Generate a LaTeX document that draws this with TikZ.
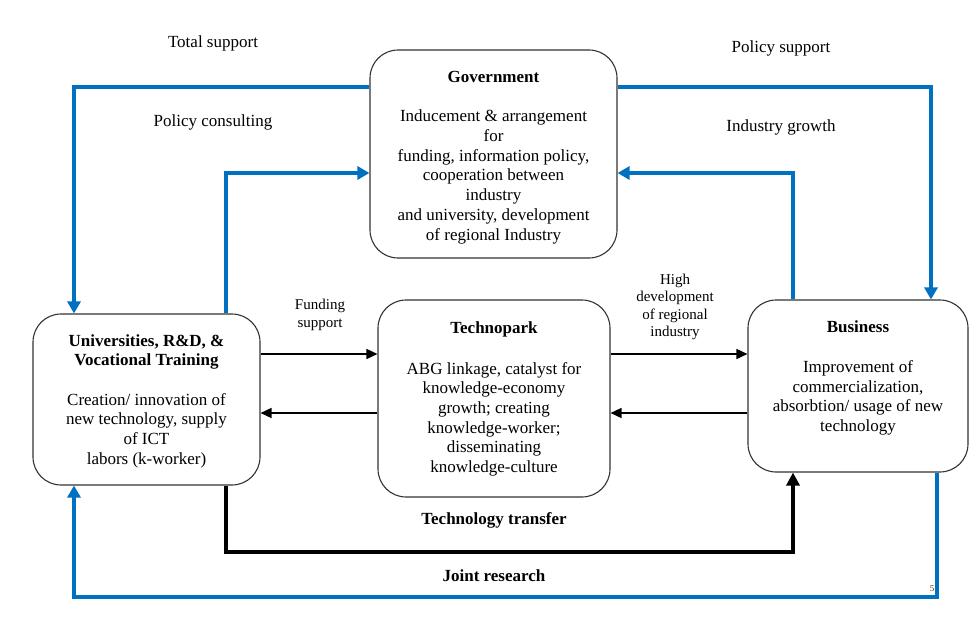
\documentclass[tikz,border=0pt]{standalone}
\usepackage{fontspec}
\setmainfont{Liberation Serif}
\usetikzlibrary{arrows.meta}
\definecolor{flowblue}{RGB}{0,112,192}
\begin{document}
\begin{tikzpicture}[x=1pt,y=-1pt,
  box/.style={draw=black!80, line width=1.1pt, rounded corners=28pt, fill=white, inner sep=0pt},
  boxtext/.style={anchor=north, align=center, inner sep=0pt, font=\fontsize{17}{19.7}\selectfont},
  lbl/.style={align=center, inner sep=0pt, font=\fontsize{17}{19.7}\selectfont},
  smalllbl/.style={align=center, inner sep=0pt, font=\fontsize{15}{17.4}\selectfont},
  blueflow/.style={draw=flowblue, line width=4.5pt, line join=miter, -{Triangle[length=12pt,width=13pt]}},
  arrowthin/.style={draw=black, line width=1.5pt, -{Triangle[length=11pt,width=10pt]}},
  arrowthick/.style={draw=black, line width=4pt, line join=miter, -{Triangle[length=13pt,width=13pt]}},
]
\useasboundingbox (0,0) rectangle (978,637);

% boxes
\node[box, minimum width=247pt, minimum height=208pt] (gov) at (493.5,154) {};
\node[box, minimum width=227pt, minimum height=171pt] (uni) at (146.5,399.5) {};
\node[box, minimum width=232pt, minimum height=197pt] (tech) at (494,398.5) {};
\node[box, minimum width=220pt, minimum height=172pt] (bus) at (858,386) {};

% box texts
\node[boxtext] (govtext) at (493.5,71) {\textbf{Government}\\[19.7pt]
  Inducement \& arrangement\\ for\\ funding, information policy,\\ cooperation between\\ industry\\ and university, development\\ of regional Industry};
\node[boxtext] (unitext) at (146.5,334) {\textbf{Universities, R\&D, \&}\\ \textbf{Vocational Training}\\[19.7pt]
  Creation/ innovation of\\ new technology, supply\\ of ICT\\ labors (k-worker)};
\node[boxtext] (techtext) at (494,322) {\textbf{Technopark}\\[20.5pt]
  ABG linkage, catalyst for\\ knowledge-economy\\ growth; creating\\ knowledge-worker;\\ disseminating\\ knowledge-culture};
\node[boxtext] (bustext) at (858,321) {\textbf{Business}\\[19.7pt]
  Improvement of\\ commercialization,\\ absorbtion/ usage of new\\ technology};

% helper coordinates
\coordinate (yTop) at (0,87);
\coordinate (yMid) at (0,173);
\coordinate (yBot) at (0,597);
\coordinate (yTT) at (0,552);
\coordinate (yA) at (0,354);
\coordinate (yB) at (0,413);
\coordinate (xL) at (74,0);
\coordinate (xPC) at (226,0);
\coordinate (xIG) at (793,0);
\coordinate (xPS) at (931,0);
\coordinate (xRB) at (937,0);

% blue connectors
\draw[blueflow] (gov.west |- yTop) -| (xL |- uni.north);
\draw[blueflow] (xPC |- uni.north) |- (gov.west |- yMid);
\draw[blueflow] (gov.east |- yTop) -| (xPS |- bus.north);
\draw[blueflow] (xIG |- bus.north) |- (gov.east |- yMid);
\draw[blueflow] (xRB |- bus.south) |- (xL |- yBot) -- (xL |- uni.south);

% black connectors
\draw[arrowthick] (xPC |- uni.south) |- (xIG |- yTT) -- (xIG |- bus.south);
\draw[arrowthin] (uni.east |- yA) -- (tech.west |- yA);
\draw[arrowthin] (tech.west |- yB) -- (uni.east |- yB);
\draw[arrowthin] (tech.east |- yA) -- (bus.west |- yA);
\draw[arrowthin] (bus.west |- yB) -- (tech.east |- yB);

% labels
\node[lbl] (ltotal) at (213,43) {Total support};
\node[lbl] (lpolsup) at (781,48) {Policy support};
\node[lbl] (lpolcon) at (213,122) {Policy consulting};
\node[lbl] (lindgr) at (781,127) {Industry growth};
\node[smalllbl] (lfund) at (320,315) {Funding\\ support};
\node[smalllbl] (lhigh) at (675,307) {High\\ development\\ of regional\\ industry};
\node[lbl, font=\bfseries\fontsize{17}{19.7}\selectfont] (ltt) at (494,520) {Technology transfer};
\node[lbl, font=\bfseries\fontsize{17}{19.7}\selectfont] (ljr) at (494,576) {Joint research};
\node[inner sep=0pt, font=\fontsize{9}{10}\selectfont, text=black!60!orange] (pagenum) at (932,589) {5};
\end{tikzpicture}
\end{document}
